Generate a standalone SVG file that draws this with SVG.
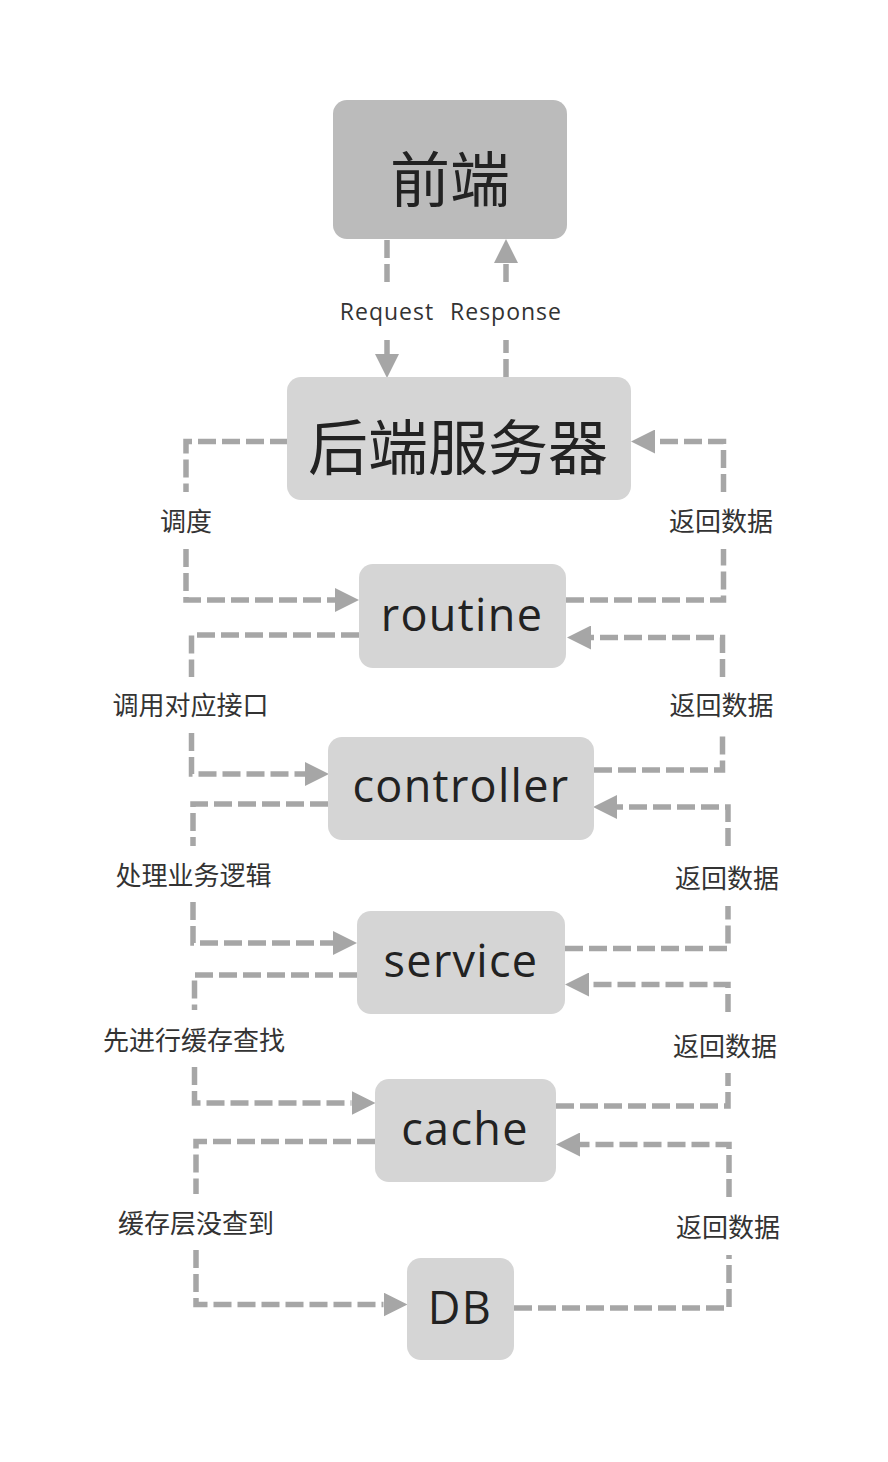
<svg xmlns="http://www.w3.org/2000/svg" width="888" height="1462" viewBox="0 0 888 1462">
<style>
.bg{fill:#ffffff}
.node{fill:#d5d5d5}
.node.dark{fill:#bbbbbb}
.big{font-family:"Noto Sans CJK SC","Noto Sans",sans-serif;font-size:60px;fill:#222;text-anchor:middle}
.en{font-family:"Open Sans","Noto Sans",sans-serif;font-size:45px;fill:#222;text-anchor:middle;letter-spacing:1.3px}
.lbl{font-family:"Noto Sans CJK SC",sans-serif;font-size:26px;fill:#333;text-anchor:middle}
.lbl-en{font-family:"Open Sans","Noto Sans",sans-serif;font-size:23px;fill:#333;text-anchor:middle;letter-spacing:1px}
.conn{fill:none;stroke:#a6a6a6;stroke-width:5.5;stroke-dasharray:18 6;marker-end:url(#arr)}
</style>
<defs>
<marker id="arr" markerUnits="userSpaceOnUse" markerWidth="24" markerHeight="24" viewBox="0 0 23 23" refX="0" refY="11.5" orient="auto">
<path d="M0,0 L23,11.5 L0,23 Z" fill="#a6a6a6"/>
</marker>
</defs>
<rect class="bg" x="0" y="0" width="888" height="1462"/>
<g id="connectors">
<path class="conn" d="M387,240 V282 M387,340 V354"/>
<path class="conn" d="M506,377 V340 M506,282 V263"/>
<path class="conn" d="M288,441.5 H186 V492 M186,549 V600 H335"/>
<path class="conn" d="M566,600 H723.5 V549 M723.5,492 V441.5 H655"/>
<path class="conn" d="M359,635 H191.5 V677 M191.5,733 V774 H305"/>
<path class="conn" d="M594,770 H722.5 V735 M722.5,677 V637.5 H591"/>
<path class="conn" d="M328,804 H193 V846 M193,902 V943 H333"/>
<path class="conn" d="M565,948.5 H728 V906 M728,846 V807 H617"/>
<path class="conn" d="M357,975 H194.5 V1010 M194.5,1067 V1103 H351.5"/>
<path class="conn" d="M556,1106 H728 V1073 M728,1012 V984.5 H589"/>
<path class="conn" d="M375,1141.5 H196 V1194 M196,1250 V1304.5 H383.5"/>
<path class="conn" d="M514,1308 H729 V1255 M729,1197 V1144.5 H580"/>
</g>
<g id="labels">
<text class="lbl-en" x="387" y="320">Request</text>
<text class="lbl-en" x="506" y="320">Response</text>
<text class="lbl" x="186" y="531">调度</text>
<text class="lbl" x="721" y="531">返回数据</text>
<text class="lbl" x="190.5" y="715">调用对应接口</text>
<text class="lbl" x="721.5" y="715">返回数据</text>
<text class="lbl" x="193.5" y="885">处理业务逻辑</text>
<text class="lbl" x="727" y="888">返回数据</text>
<text class="lbl" x="194" y="1050">先进行缓存查找</text>
<text class="lbl" x="725" y="1056">返回数据</text>
<text class="lbl" x="196" y="1233">缓存层没查到</text>
<text class="lbl" x="728" y="1237">返回数据</text>
</g>
<g id="node-frontend">
<rect class="node dark" x="333" y="100" width="234" height="139" rx="14"/>
<text class="big" x="450" y="202">前端</text>
</g>
<g id="node-backend">
<rect class="node" x="287" y="377" width="344" height="123" rx="14"/>
<text class="big" x="458" y="470">后端服务器</text>
</g>
<g id="node-routine">
<rect class="node" x="359" y="564" width="207" height="104" rx="14"/>
<text class="en" x="462" y="631">routine</text>
</g>
<g id="node-controller">
<rect class="node" x="328" y="737" width="266" height="103" rx="14"/>
<text class="en" x="461" y="802">controller</text>
</g>
<g id="node-service">
<rect class="node" x="357" y="911" width="208" height="103" rx="14"/>
<text class="en" x="461" y="977">service</text>
</g>
<g id="node-cache">
<rect class="node" x="375" y="1079" width="181" height="103" rx="14"/>
<text class="en" x="465" y="1145">cache</text>
</g>
<g id="node-db">
<rect class="node" x="407" y="1258" width="107" height="102" rx="14"/>
<text class="en" x="460" y="1324">DB</text>
</g>
</svg>
